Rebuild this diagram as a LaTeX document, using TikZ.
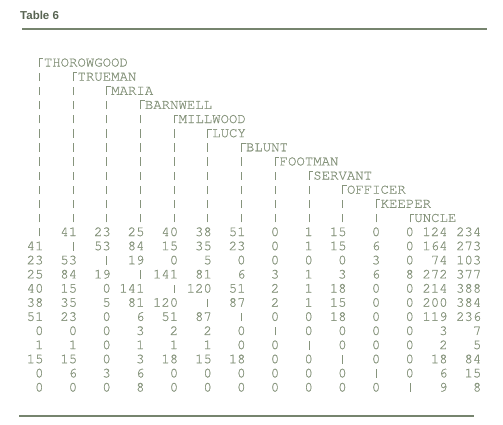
\documentclass[tikz,border=0pt]{standalone}
\usepackage{fontspec}
\newfontfamily\monofnt[FakeBold=0.6]{TeX Gyre Cursor}
\newfontfamily\titlefnt{Liberation Sans}
\definecolor{txtcol}{RGB}{134,148,124}
\definecolor{rulecol}{RGB}{118,132,110}
\definecolor{titlecol}{RGB}{88,100,82}
\tikzset{
  num/.style={anchor=base east, inner sep=0pt, text=txtcol, font=\monofnt\fontsize{14}{14}\selectfont},
  lbl/.style={anchor=base west, inner sep=0pt, text=txtcol, font=\monofnt\fontsize{14}{14}\selectfont},
  bar/.style={draw=txtcol, line width=0.8pt},
  rulestyle/.style={draw=rulecol, line width=1.4pt},
  ttl/.style={anchor=base west, inner sep=0pt, text=titlecol, font=\titlefnt\bfseries\fontsize{11.5}{12}\selectfont}
}
\def\w{8.42}
\def\xo{10.0}
\def\yb{66.5}
\def\lp{14.13}
\begin{document}
\begin{tikzpicture}[x=1pt,y=-1pt]
\fill[white] (0,0) rectangle (503,424);
\useasboundingbox (0,0) rectangle (503,424);
% title and rules
\node[ttl] (title) at (20,19) {Table 6};
\draw[rulestyle] (22,29) -- (487,29);
\draw[rulestyle] (19,416) -- (474,416);
% header labels with corners
\foreach \name [count=\k from 0] in {THOROWGOOD,TRUEMAN,MARIA,BARNWELL,MILLWOOD,LUCY,BLUNT,FOOTMAN,SERVANT,OFFICER,KEEPER,UNCLE}{
  \node[lbl] (h\k) at ({\xo+(4*\k+4)*\w},{\yb+\k*\lp}) {\name};
  \draw[bar] ({\xo+(4*\k+3.5)*\w},{\yb+\k*\lp+0.4}) -- ++(0,-8.4) -- ++(4.0,0);
}
% vertical bars below labels
\foreach \j in {0,...,10}{
  \pgfmathtruncatemacro{\first}{\j+1}
  \foreach \L in {\first,...,11}{
    \draw[bar] ({\xo+(4*\j+3.5)*\w},{\yb+\L*\lp+0.4}) -- ++(0,-8.4);
  }
}
% data rows
\foreach \row [count=\r from 0] in {{x,41,23,25,40,38,51,0,1,15,0,0,124,234},
 {41,x,53,84,15,35,23,0,1,15,6,0,164,273},
 {23,53,x,19,0,5,0,0,0,0,3,0,74,103},
 {25,84,19,x,141,81,6,3,1,3,6,8,272,377},
 {40,15,0,141,x,120,51,2,1,18,0,0,214,388},
 {38,35,5,81,120,x,87,2,1,15,0,0,200,384},
 {51,23,0,6,51,87,x,0,0,18,0,0,119,236},
 {0,0,0,3,2,2,0,x,0,0,0,0,3,7},
 {1,1,0,1,1,1,0,0,x,0,0,0,2,5},
 {15,15,0,3,18,15,18,0,0,x,0,0,18,84},
 {0,6,3,6,0,0,0,0,0,0,x,0,6,15},
 {0,0,0,8,0,0,0,0,0,0,0,x,9,8}}{
  \foreach \v [count=\j from 0] in \row {
    \ifnum\j=\r
      \draw[bar] ({\xo+(4*\j+3.5)*\w},{\yb+(\r+12)*\lp+0.4}) -- ++(0,-8.4);
    \else
      \node[num] (d\r-\j) at ({\xo+(4*\j+4)*\w},{\yb+(\r+12)*\lp}) {\v};
    \fi
  }
}
\end{tikzpicture}
\end{document}
